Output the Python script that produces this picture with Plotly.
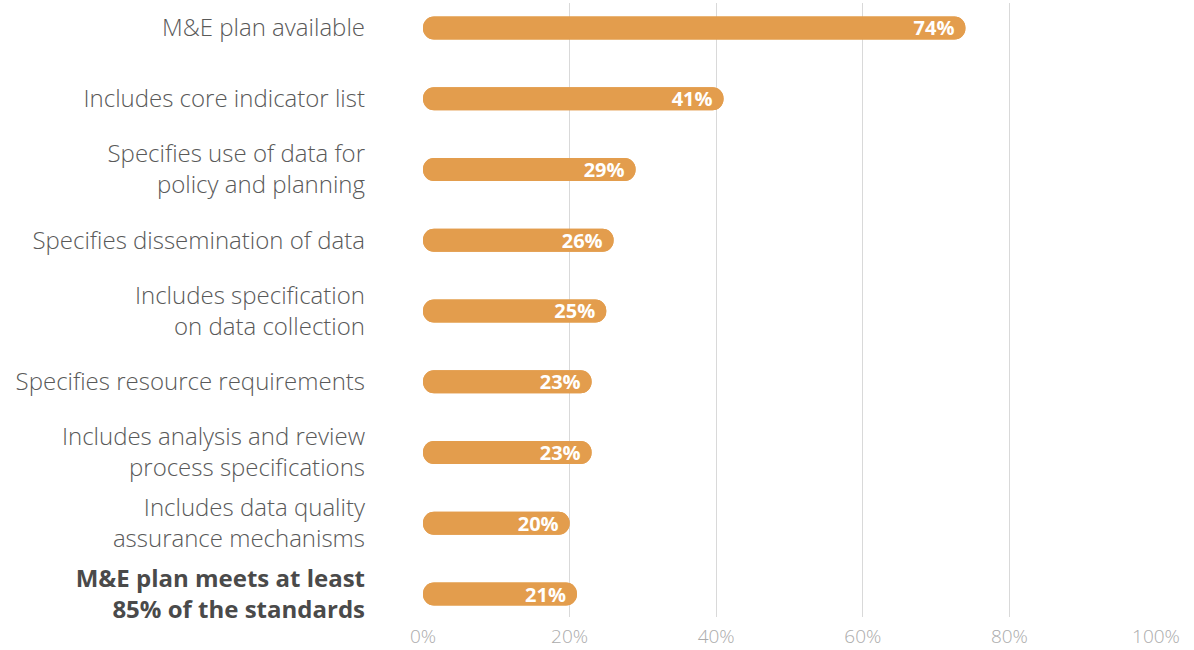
import plotly.graph_objects as go

categories = [
    "M&E plan available",
    "Includes core indicator list",
    "Specifies use of data for<br>policy and planning",
    "Specifies dissemination of data",
    "Includes specification<br>on data collection",
    "Specifies resource requirements",
    "Includes analysis and review<br>process specifications",
    "Includes data quality<br>assurance mechanisms",
    "<b><span style='color:#4A4A4A'>M&E plan meets at least<br>85% of the standards</span></b>",
]
values = [74, 41, 29, 26, 25, 23, 23, 20, 21]
x_ticks = [0, 20, 40, 60, 80, 100]
x_tick_labels = ["0%", "20%", "40%", "60%", "80%", "100%"]

FONT = "Open Sans"
BAR_COLOR = "#E39D4D"
BAR_WIDTH = 0.325

fig = go.Figure()

# Reverse half: drawn from the value back to zero so its rounded end sits at 0
fig.add_trace(
    go.Bar(
        y=categories,
        x=[-v for v in values],
        base=values,
        orientation="h",
        marker=dict(color=BAR_COLOR, line=dict(width=0)),
        width=BAR_WIDTH,
        hoverinfo="skip",
    )
)

# Forward half: zero to value, rounded at the value end, carries the label
fig.add_trace(
    go.Bar(
        y=categories,
        x=values,
        base=0,
        orientation="h",
        marker=dict(color=BAR_COLOR, line=dict(width=0)),
        width=BAR_WIDTH,
        text=[f"<b>{v}%</b>" for v in values],
        textposition="inside",
        insidetextanchor="end",
        textangle=0,
        constraintext="none",
        textfont=dict(family=FONT, size=20, color="white"),
        hoverinfo="skip",
    )
)

fig.update_layout(
    width=1194,
    height=650,
    margin=dict(l=423, r=38, t=3, b=33),
    paper_bgcolor="white",
    plot_bgcolor="white",
    barmode="overlay",
    barcornerradius="50%",
    showlegend=False,
    font=dict(family=FONT),
    uniformtext=dict(minsize=20, mode="show"),
)

fig.update_xaxes(
    range=[0, 100],
    tickvals=x_ticks,
    ticktext=x_tick_labels,
    showgrid=True,
    gridcolor="#D9D9D9",
    gridwidth=1,
    zeroline=False,
    showline=False,
    tickfont=dict(family=FONT, size=19, color="#ABABAB", weight=300),
    ticklabelstandoff=6,
    automargin=False,
    fixedrange=True,
)

fig.update_yaxes(
    type="category",
    categoryorder="array",
    categoryarray=categories,
    range=[8.325, -0.353],
    showgrid=False,
    zeroline=False,
    showline=False,
    tickfont=dict(family=FONT, size=24, color="#595959", weight=300),
    ticklabelstandoff=57,
    automargin=False,
    fixedrange=True,
)

fig.write_html("out.html")
